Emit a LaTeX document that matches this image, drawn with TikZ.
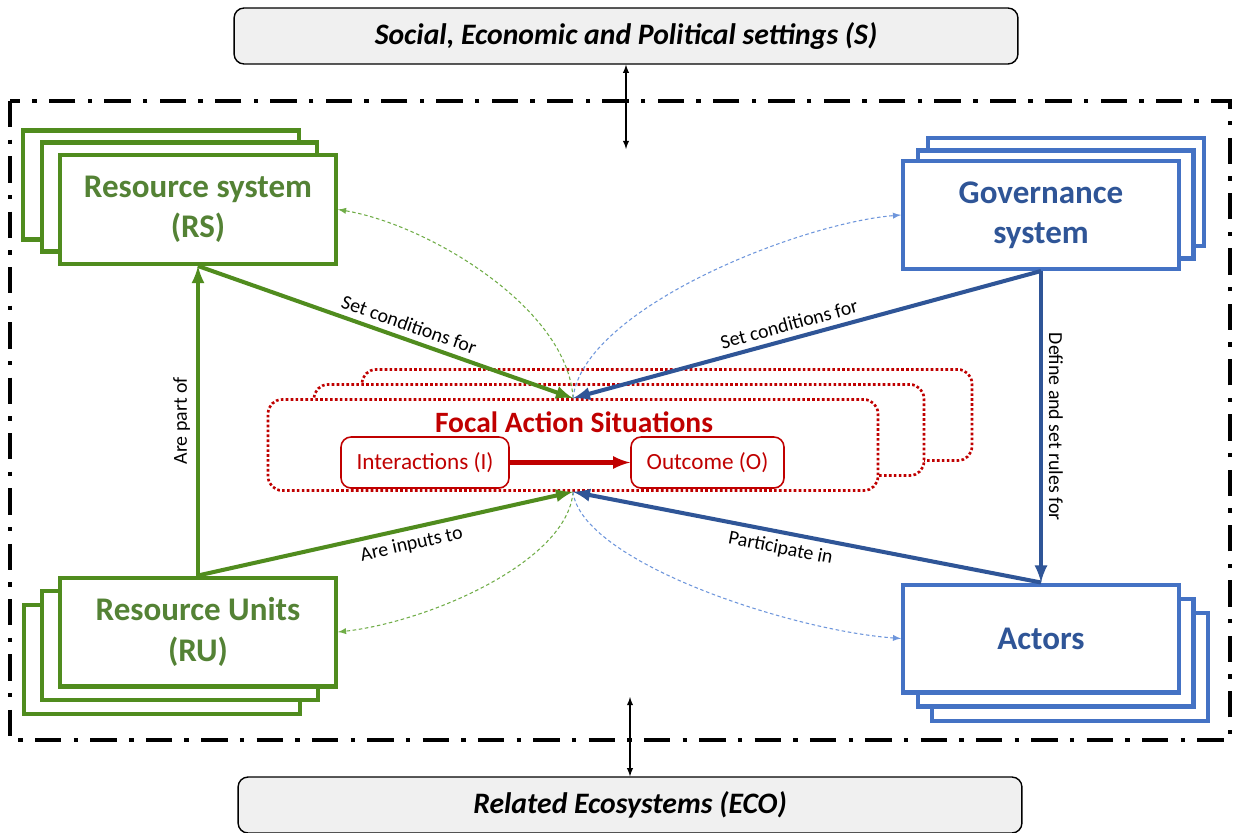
\documentclass[tikz,border=0pt]{standalone}
\usepackage{fontspec}
\setmainfont{Carlito}
\definecolor{rsgreen}{RGB}{84,130,53}
\definecolor{linegreen}{RGB}{80,140,30}
\definecolor{dotgreen}{RGB}{112,173,71}
\definecolor{govblue}{RGB}{47,85,151}
\definecolor{boxblue}{RGB}{68,114,196}
\definecolor{dotblue}{RGB}{110,150,220}
\definecolor{fasred}{RGB}{192,0,0}
\tikzset{
	greenbox/.style={draw=linegreen, line width=2.3pt, fill=white, minimum width=5.52cm, minimum height=2.18cm,
		align=center, text=rsgreen, font=\fontsize{18.8}{23}\selectfont\bfseries},
	bluebox/.style={draw=boxblue, line width=2.3pt, fill=white, minimum width=5.52cm, minimum height=2.16cm,
		align=center, text=govblue, font=\fontsize{18.8}{23}\selectfont\bfseries},
	focalbox/.style={draw=fasred, line width=1.5pt, dash pattern=on 1.5pt off 1.3pt, fill=white,
		rounded corners=0.28cm, minimum width=12.2cm, minimum height=1.82cm},
	redbox/.style={draw=fasred, line width=0.9pt, fill=white, rounded corners=0.2cm, minimum height=1.02cm,
		text=fasred, font=\fontsize{13.2}{15}\selectfont},
	setbox/.style={draw=black, line width=0.8pt, fill=black!6, rounded corners=0.2cm, minimum width=15.68cm,
		minimum height=1.12cm, font=\fontsize{16.9}{20}\selectfont\bfseries\itshape},
	greenarrow/.style={draw=linegreen, line width=2.3pt, -latex},
	bluearrow/.style={draw=govblue, line width=2.3pt, -latex},
	greendots/.style={draw=dotgreen, line width=0.6pt, dash pattern=on 2pt off 1.5pt, -latex},
	bluedots/.style={draw=dotblue, line width=0.6pt, dash pattern=on 2pt off 1.5pt, -latex},
}
\begin{document}
\begin{tikzpicture}[x=0.02cm, y=-0.02cm, font=\fontsize{11.3}{13}\selectfont]
	\fill[white] (0,0) rectangle (1236,832);
	\useasboundingbox (0,0) rectangle (1236,832);
	% frame
	\draw[line width=2.3pt, dash pattern=on 15pt off 7pt on 2.5pt off 7pt] (10,101) rectangle (1230,740);
	% settings and ecosystems
	\node[setbox] (S) at (626,36) {Social, Economic and Political settings (S)};
	\node[setbox] (eco) at (630,805) {Related Ecosystems (ECO)};
	\coordinate (s-end) at (626,149);
	\coordinate (eco-end) at (630,697);
	\draw[latex-latex, line width=0.6pt] (S.south) -- (s-end);
	\draw[latex-latex, line width=0.6pt] (eco.north) -- (eco-end);
	% stacks
	\node[greenbox] (rs-b) at (161,185) {};
	\node[greenbox] (rs-m) at (179.5,197) {};
	\node[greenbox] (rs) at (198,209.5) {Resource system\\(RS)};
	\node[greenbox] (ru-b) at (162,659.5) {};
	\node[greenbox] (ru-m) at (180,645.5) {};
	\node[greenbox] (ru) at (198,632) {Resource Units\\(RU)};
	\node[bluebox] (gov-b) at (1066,192) {};
	\node[bluebox] (gov-m) at (1055.5,204.5) {};
	\node[bluebox] (gov) at (1041,215) {Governance\\system};
	\node[bluebox] (act-b) at (1070,667) {};
	\node[bluebox] (act-m) at (1055.5,652.5) {};
	\node[bluebox] (act) at (1041,638.5) {Actors};
	% focal action situations
	\node[focalbox] (focal-b) at (667,415) {};
	\node[focalbox] (focal-m) at (619,430) {};
	\node[focalbox] (focal) at (573,445) {};
	\node[text=fasred, font=\fontsize{16.8}{20}\selectfont\bfseries] (fas) at (574,422) {Focal Action Situations};
	\node[redbox, minimum width=3.36cm] (int) at (425,462.5) {Interactions (I)};
	\node[redbox, minimum width=3.06cm] (out) at (707.5,462.5) {Outcome (O)};
	\draw[fasred, line width=2.3pt, -latex] (int) -- (out);
	% links
	\draw[greenarrow] (rs.south) -- (focal.north) node[pos=0.55, sloped, above] {Set conditions for};
	\draw[greenarrow] (ru.north) -- (rs.south) node[midway, rotate=90, anchor=south] {Are part of};
	\draw[greenarrow] (ru.north) -- (focal.south) node[pos=0.56, sloped, below] {Are inputs to};
	\draw[bluearrow] (gov.south) -- (focal.north) node[pos=0.53, sloped, above] {Set conditions for};
	\draw[bluearrow] (gov.south) -- (act.north) node[midway, rotate=-90, anchor=south] {Define and set rules for};
	\draw[bluearrow] (act.north) -- (focal.south) node[pos=0.55, sloped, below] {Participate in};
	% feedbacks
	\draw[greendots] (focal.north) .. controls +(-5,-90) and +(90,15) .. (rs.east);
	\draw[bluedots] (focal.north) .. controls +(10,-90) and +(-100,8) .. (gov.west);
	\draw[greendots] (focal.south) .. controls +(-5,70) and +(90,-10) .. (ru.east);
	\draw[bluedots] (focal.south) .. controls +(8,70) and +(-110,-8) .. (act.west);
\end{tikzpicture}
\end{document}
